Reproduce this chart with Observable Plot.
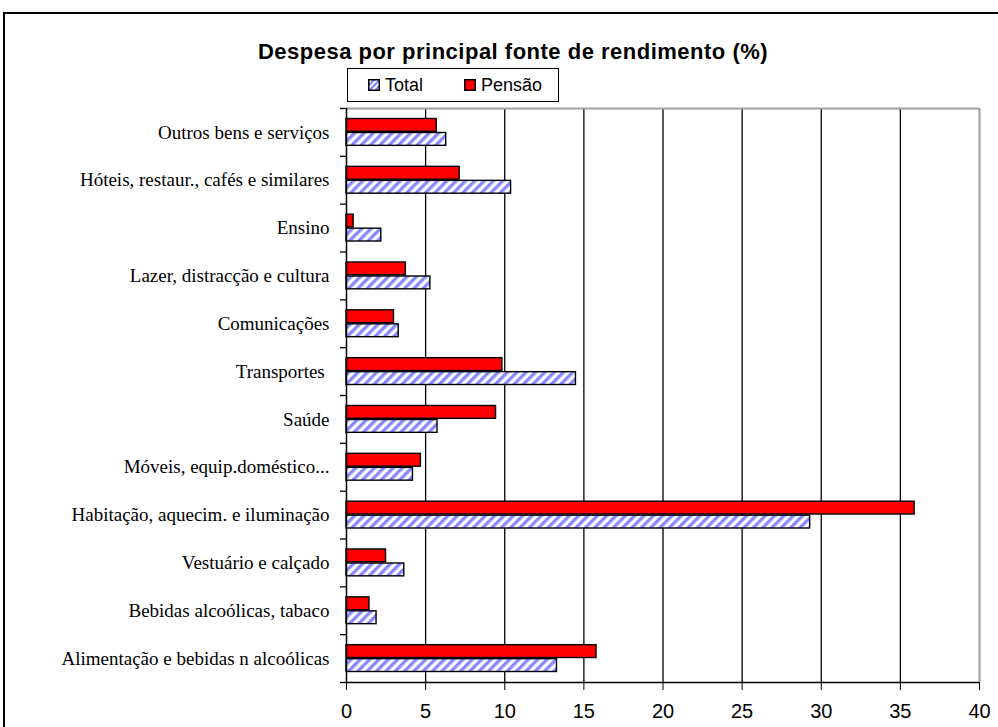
<!DOCTYPE html>
<html>
<head>
<meta charset="utf-8">
<script src="https://cdn.jsdelivr.net/npm/d3@7"></script>
<script src="https://cdn.jsdelivr.net/npm/@observablehq/plot@0.6"></script>
<style>
  html, body { margin: 0; padding: 0; }
  body { width: 998px; height: 727px; overflow: hidden; background: #fff; position: relative; color: #000;
         font-family: "Liberation Sans", Arial, sans-serif; }
  #frame { position: absolute; left: 3px; top: 12px; width: 1200px; height: 900px; border: 2px solid #000; box-sizing: border-box; }
  #chart { position: absolute; left: 0; top: 0; }
  #title { position: absolute; left: 0; width: 1026px; top: 40px; text-align: center; font-weight: bold; font-size: 22px; letter-spacing: 0.5px; line-height: 24px; }
  #legend { position: absolute; left: 347px; top: 68px; width: 212px; height: 34px; border: 1px solid #000; box-sizing: border-box; background: #fff;
            font-size: 18px; }
  .item { position: absolute; top: 0; height: 32px; display: flex; align-items: center; }
  .item svg { margin-right: 5px; }
  #chart g[aria-label="y-axis tick label"] text { font-family: "Liberation Serif", "Times New Roman", serif; font-size: 19px; }
  #chart g[aria-label="x-axis tick label"] text { font-family: "Liberation Sans", Arial, sans-serif; font-size: 20px; }
</style>
</head>
<body>
<div id="frame"></div>
<div id="chart"></div>
<div id="title"></div>
<div id="legend"></div>
<script>
// ---- data ----
const title = "Despesa por principal fonte de rendimento (%)";
const series = ["Total", "Pensão"];
const categories = [
  "Outros bens e serviços",
  "Hóteis, restaur., cafés e similares",
  "Ensino",
  "Lazer, distracção e cultura",
  "Comunicações",
  "Transportes ",
  "Saúde",
  "Móveis, equip.doméstico...",
  "Habitação, aquecim. e iluminação",
  "Vestuário e calçado",
  "Bebidas alcoólicas, tabaco",
  "Alimentação e bebidas n alcoólicas"
];
const total  = [6.3, 10.4, 2.2, 5.3, 3.3, 14.5, 5.75, 4.2, 29.3, 3.65, 1.9, 13.3];
const pensao = [5.7, 7.15, 0.45, 3.75, 3.0, 9.85, 9.45, 4.7, 35.9, 2.5, 1.45, 15.8];
const xTicks = [0, 5, 10, 15, 20, 25, 30, 35, 40];

// ---- build ----
const rowsTotal = categories.map((c, i) => ({cat: c, serie: series[0], v: total[i]}));
const rowsPensao = categories.map((c, i) => ({cat: c, serie: series[1], v: pensao[i]}));

const W = 998, H = 727, mt = 108, mb = 45, ml = 346, mr = 19;
const band = (H - mt - mb) / categories.length;

const chart = Plot.plot({
  width: W, height: H,
  marginLeft: ml, marginRight: mr, marginTop: mt, marginBottom: mb,
  style: {background: "transparent", overflow: "visible", color: "#000"},
  x: {domain: [0, 40], label: null},
  y: {domain: categories, padding: 0, round: false, label: null},
  marks: [
    Plot.ruleX(xTicks.filter(t => t > 0 && t < 40), {stroke: "#000", strokeWidth: 1.3}),
    Plot.ruleX([40], {stroke: "#a0a0a0", strokeWidth: 2}),
    Plot.ruleY([categories[0]], {dy: -band / 2, stroke: "#a0a0a0", strokeWidth: 2}),
    Plot.barX(rowsPensao, {x: "v", y: "cat", fill: "#ff0000", stroke: "#000", strokeWidth: 1.4, insetTop: 10.5, insetBottom: 24.5}),
    Plot.barX(rowsTotal, {x: "v", y: "cat", fill: "url(#hatch)", stroke: "#000", strokeWidth: 1.4, insetTop: 24.5, insetBottom: 10.5}),
    Plot.ruleX([0], {stroke: "#000", strokeWidth: 1.5}),
    Plot.ruleY([categories[categories.length - 1]], {dy: band / 2, stroke: "#000", strokeWidth: 1.5}),
    Plot.ruleY(categories, {dy: -band / 2, x1: 0, x2: 0, insetRight: 6, stroke: "#000", strokeWidth: 1.3}),
    Plot.ruleY([categories[categories.length - 1]], {dy: band / 2, x1: 0, x2: 0, insetRight: 6, stroke: "#000", strokeWidth: 1.3}),
    Plot.axisY({tickSize: 0, tickPadding: 17, fontSize: 19, fontFamily: "Liberation Serif", label: null}),
    Plot.axisX({ticks: xTicks, tickSize: 8, tickPadding: 13, tickFormat: d => String(d), fontSize: 20, label: null, stroke: "#000"})
  ]
});

const defs = d3.select(chart).insert("defs", ":first-child");
const pat = defs.append("pattern").attr("id", "hatch").attr("patternUnits", "userSpaceOnUse")
  .attr("width", 6.6).attr("height", 6.6).attr("patternTransform", "rotate(45)");
pat.append("rect").attr("width", 6.6).attr("height", 6.6).attr("fill", "#ffffff");
pat.append("rect").attr("width", 3.3).attr("height", 6.6).attr("fill", "#8888ff");

document.getElementById("chart").appendChild(chart);
document.getElementById("title").textContent = title;

// legend
const legend = document.getElementById("legend");
const swatchFill = {"Total": "url(#hatchL)", "Pensão": "#ff0000"};
const legendX = {"Total": 20, "Pensão": 116};
series.forEach(s => {
  const item = document.createElement("div");
  item.className = "item";
  item.style.left = legendX[s] + "px";
  item.innerHTML = `<svg width="12" height="12">
    <defs><pattern id="hatchL" patternUnits="userSpaceOnUse" width="4" height="4" patternTransform="rotate(45)">
      <rect width="4" height="4" fill="#fff"/><rect width="2" height="4" fill="#7a7aff"/></pattern></defs>
    <rect x="0.75" y="0.75" width="10.5" height="10.5" fill="${swatchFill[s]}" stroke="#000" stroke-width="1.5"/></svg><span>${s}</span>`;
  legend.appendChild(item);
});
</script>
</body>
</html>
